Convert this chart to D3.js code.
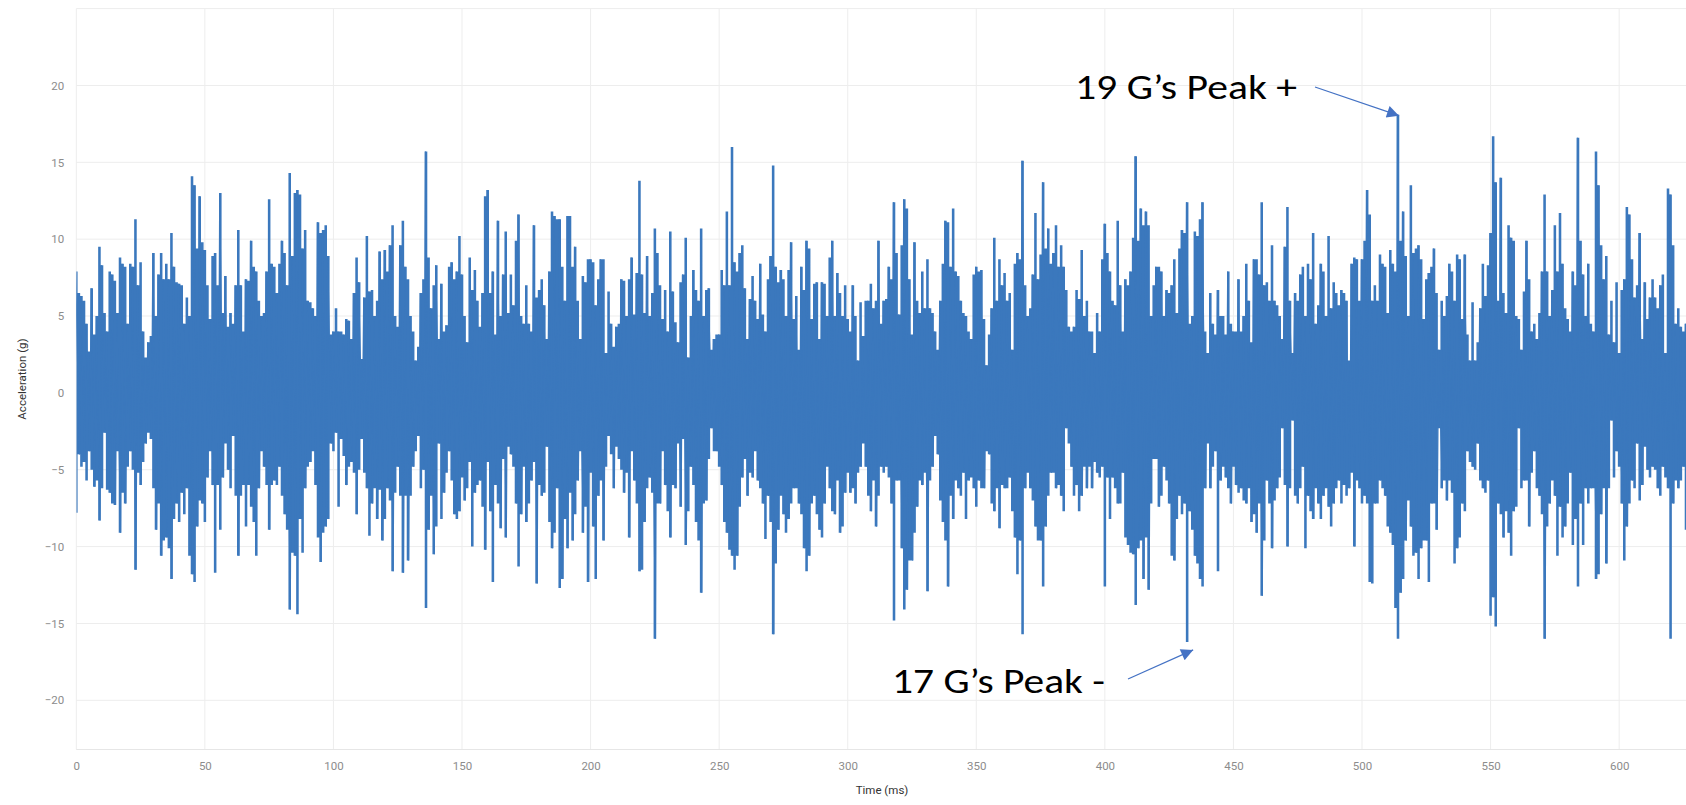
<!doctype html>
<html>
<head>
<meta charset="utf-8">
<script src="https://d3js.org/d3.v7.min.js"></script>
<style>
  body { margin: 0; background: #fff; }
  svg { display: block; }
</style>
</head>
<body>
<div id="chart"></div>
<script>

// axis ticks
var timeTicks = [0, 50, 100, 150, 200, 250, 300, 350, 400, 450, 500, 550, 600];
var accelTicks = [-20, -15, -10, -5, 0, 5, 10, 15, 20];

// upper envelope of the signal, one value per ms (0..626)
var accelMax = [
  7.9,6.5,6.3,6,4.5,2.7,6.8,3.8,5,9.5,          // 0
  8.3,5.2,4,7.9,7.7,7.3,5.2,8.8,8.4,8.2,
  4.5,8.4,8.2,11.3,7,8.5,4,2.3,3.3,3.7,
  9.1,5,7.7,9.1,7.4,8.4,7.4,10.4,8.2,7.2,
  7.1,7,4.5,6.2,5,14.1,13.5,9.4,12.8,9.8,
  9.3,7,4.8,8.9,9.1,7,13,5.2,7.6,4.3,           // 50
  5.2,4.5,7,10.6,7,4,7.4,7.3,9.9,8.2,
  7.9,6,5,5.2,7.9,12.6,8.4,8.2,6.5,8.4,
  9.9,9.1,7,14.3,8.9,13,13.2,12.9,9.4,10.6,
  6,5.9,5.5,5,11.1,10.4,10.6,10.9,8.9,3.8,
  4,5.5,4,4,3.8,4.8,4.7,3.5,6.5,8.8,            // 100
  7.2,2.2,6.2,10.2,6.6,6.7,5,6,9.2,7.4,
  9.3,7.9,9.6,10.9,5,4.3,9.6,11.2,8.2,7.4,
  5,4,2.1,3,6.5,7.4,15.7,8.8,5.5,7,
  8.3,3.5,7.1,4,4.4,8.2,8.5,7.4,7.9,10.2,
  7.7,5,3.3,8.8,6.7,8,6,4.3,6.5,12.8,           // 150
  13.2,6.5,7.9,3.8,11.2,5,7.7,10.5,5.2,7.7,
  5.7,9.9,11.6,5,4.5,7,4.5,4,10.9,6.2,
  6.7,7.4,5.7,3.5,7.9,11.8,11.5,11.3,11.3,8.2,
  6,11.5,11.5,8.2,9.5,6,3.5,7.6,7.2,8.7,
  8.7,8.5,5.7,7.4,8.7,8.7,2.6,6.6,4.5,3,         // 200
  4.3,4.5,7.4,7.3,5,7.4,8.8,5.1,7.8,13.8,
  7.7,5.2,8.9,5,6.5,10.7,9.1,7,4.8,6.7,
  4,10.5,6.6,4.6,3.3,7.2,7.7,10.1,2.3,5,
  8,6.7,6,10.7,5,6.7,6.8,2.8,3.5,3.8,
  3.8,8,7,11.8,7,16,8.5,7.9,9.1,9.6,             // 250
  6.8,3.5,6.1,7.6,6,4.8,8.4,5.1,4,7.4,
  8.9,14.8,8.2,7.2,8,7.4,5,8,9.8,4.8,
  6.3,2.8,8.2,6.7,9.9,9.4,4.8,7.1,7.2,3.5,
  7.2,7.1,5,8.8,9.9,5,7.8,6.5,5,7,
  4.8,4,7,5,2.1,5.9,3.7,6,6,7.1,                 // 300
  5.5,6,9.9,4.5,6,6.1,8.2,7.4,12.4,9.1,
  5.1,9.6,12.6,12,7.4,3.8,9.8,6,5.2,7.9,
  5.5,8.7,5.5,5.2,4,2.8,6,8.4,11.2,11.1,
  8.2,12,7.9,7.6,6,5.2,5,4,3.5,7.7,
  8.2,7.9,8,4.8,1.8,3.8,5.5,10.1,6,8.7,          // 350
  7,7.8,6,6.5,2.8,8.4,9.1,8.7,15.1,7,
  5,5.5,7.7,11.7,7.4,9,13.7,9.4,10.7,8.4,
  9.1,10.9,8.2,9.6,8.2,6.7,4.3,4,4.3,6.7,
  6.1,9.3,5,6,4,4,2.6,5.2,4,8.7,
  11,9.1,7.9,6,5.7,11.2,7,4,7.4,7,               // 400
  7.9,10.1,15.4,9.9,12,10.9,11.8,10.9,5,7,
  8.2,8.2,7.9,5,6.7,6.5,7,8.7,5.2,9.4,
  10.6,10.4,12.4,4.5,5,10.5,10.2,11.3,12.4,4,
  2.6,6.5,4.5,3.8,6.7,5,5,3.8,7.9,4.5,
  4,4,7.4,4,5,8.4,6,3.3,8.7,8.7,                 // 450
  7.7,12.4,7,7.2,6,9.6,6,5.7,5,3.5,
  9.5,12.1,6,2.6,6.5,6,7.7,8.2,5,8.4,
  7.4,10.4,4.5,5.7,8.4,7.9,5,10.2,5.5,7.2,
  6.5,5.7,6.7,6.5,6,2.1,8.4,8.8,8.7,6,
  8.7,9.9,13.2,11.6,6,7,6,9,8.4,8.2,             // 500
  5.2,9.3,8.4,7.9,18.1,9.9,11.8,8.9,5,13.5,
  9.1,9.4,9.6,8.7,4.8,7.4,7.8,8.2,9.4,6.5,
  2.8,6,5,6.3,8.4,7.9,6,9,8.7,4.8,
  9,3.8,2.1,5.9,2.1,3.3,5.5,8.4,6.3,8.3,
  10.4,16.7,13.7,6,14,6.5,5.2,10.9,10.1,9.9,     // 550
  5,4.8,2.8,6.6,9.9,7.4,4,4.5,3.5,5.2,
  7.9,12.9,7.9,5,6.7,10.9,7.9,11.7,8.4,5.5,
  4.8,4,7.9,7,16.6,9.9,7.7,5,8.4,4.5,
  4,15.7,13.5,9.6,7.4,8.9,3.8,6,3.3,7.2,
  2.6,6.7,7.4,12.1,11.6,8.7,6.2,7,10.4,3.5,      // 600
  7.2,4.8,6.2,7.4,6.2,5.5,7,7.7,2.6,13.3,
  12.9,9.6,4.5,5.5,4.3,4,4.5
];

// lower envelope, same ms grid
var accelMin = [
  -7.8,-4,-4.8,-4.5,-5.7,-3.8,-5,-6.1,-5.7,-8.3,              // 0
  -6.2,-2.6,-6.3,-6.5,-7.2,-7.3,-3.8,-9.1,-6.5,-7.2,
  -4.8,-3.8,-5,-11.5,-5.2,-6,-4.5,-3.3,-2.6,-3,
  -6.2,-8.9,-7.2,-10.6,-9.6,-9.4,-10.1,-12.1,-8.2,-7.2,
  -8.4,-6.5,-7.9,-6.2,-10.6,-11.8,-12.3,-8.7,-7,-7.2,
  -8.4,-5.5,-3.8,-6,-11.7,-6,-8.9,-5.5,-3.3,-5,              // 50
  -6.2,-2.8,-6.7,-10.6,-6.7,-6,-8.7,-6,-7.4,-8.4,
  -10.6,-6.2,-3.8,-4.8,-6,-8.9,-6,-5.7,-6,-4.8,
  -6.7,-7.9,-8.9,-14.1,-10.4,-10.6,-14.4,-8.2,-10.4,-6.2,
  -4.8,-4.5,-3.8,-6,-9.4,-11,-9.1,-8.7,-8.2,-3.3,
  -3.8,-2.6,-7.4,-3,-4.1,-6,-4.8,-4.5,-5.2,-7.9,             // 100
  -5,-3,-5.2,-6.2,-9.3,-7.2,-6.2,-8.2,-6.3,-9.6,
  -8.2,-6.2,-7,-11.6,-6.5,-4.8,-6.7,-11.7,-6.7,-10.9,
  -6.7,-4.8,-3.8,-2.8,-6.2,-5,-14,-8.9,-6.7,-10.5,
  -8.7,-3.3,-8.2,-6.5,-5.2,-3.8,-5.7,-7.9,-8.2,-7.7,
  -5.5,-7,-6.2,-4.5,-10,-6.5,-6,-5.7,-7.4,-10.2,             // 150
  -4.5,-7.7,-12.3,-6,-7.2,-8.8,-4.3,-9.4,-3.5,-4,
  -4.8,-7.2,-11.3,-7.9,-4.8,-8.4,-7.2,-5.7,-4.5,-12.4,
  -6,-6.7,-6.5,-3.5,-8.4,-10.1,-9.1,-6.2,-12.7,-12.1,
  -8.2,-10.1,-6.5,-9.6,-7.9,-5.7,-3.8,-9.1,-7.4,-12.3,
  -5.2,-8.7,-12.1,-6.7,-5.7,-9.6,-4.8,-2.8,-4,-6.2,          // 200
  -3.5,-4.3,-5,-6.5,-5.2,-9.4,-3.8,-5.7,-7.2,-11.6,
  -11.5,-8.4,-6.2,-5.5,-6.5,-16,-7.2,-7.2,-3.8,-6,
  -7.7,-9.4,-6,-6.2,-3.3,-7.4,-3,-9.9,-7.7,-4.8,
  -6,-8.4,-9.6,-13,-7.2,-7,-4.3,-2.3,-3.8,-3.8,
  -4.8,-6,-8.4,-9.1,-10.2,-10.6,-11.5,-10.6,-7.4,-5.5,       // 250
  -4.3,-6.7,-5.2,-5.5,-3.8,-5.7,-6.2,-7.2,-9.5,-6.7,
  -8.4,-15.7,-11.1,-8.9,-6.7,-7.9,-9.1,-8.2,-7.2,-6.2,
  -6.2,-7.2,-7.9,-10.1,-11.6,-10.6,-7.2,-6.7,-7.9,-8.9,
  -9.4,-7.2,-4.8,-6.2,-7.7,-7.9,-5.7,-9.1,-8.7,-6.5,
  -5.2,-6.5,-6.2,-7.2,-5.2,-4.8,-3.3,-4.8,-6.7,-7.7,         // 300
  -5.7,-8.7,-6.7,-4.8,-5.2,-4.8,-5.5,-7.2,-14.8,-5.7,
  -5.7,-10.1,-14.1,-12.8,-10.9,-10.9,-9.1,-7.4,-5.7,-6,
  -5.2,-12.9,-5.7,-4.8,-2.8,-4,-7,-8.4,-9.6,-12.6,
  -6.7,-8.2,-5.7,-6.2,-6.7,-5.2,-8.2,-5.7,-5.5,-6.2,
  -7.4,-5.7,-6.2,-6.2,-3.8,-4,-7.2,-7.7,-6.2,-8.8,           // 350
  -6,-6.2,-6.2,-5.5,-7.7,-9.4,-11.8,-9.6,-15.7,-6.2,
  -5.2,-6.2,-7,-8.7,-9.6,-9.6,-12.6,-8.7,-6.7,-5.2,
  -5.2,-6.2,-6,-6.7,-7.7,-2.3,-3.3,-4.8,-6.7,-6,
  -7.7,-6.7,-4.8,-6.2,-4.8,-6.2,-4.5,-5.2,-5.5,-4.8,
  -12.6,-5.5,-8.2,-5.5,-6.2,-7.2,-7.2,-5.2,-9.4,-9.9,        // 400
  -10.4,-10.5,-13.8,-10.1,-9.6,-12.1,-9.4,-12.8,-7.2,-4.3,
  -4.3,-7.4,-6.7,-4.8,-5.7,-7.2,-10.6,-10.9,-8.2,-6.7,
  -7.9,-7.2,-16.2,-7.7,-8.9,-10.6,-11.1,-12.1,-12.6,-6.2,
  -3.3,-6.2,-4.8,-3.8,-11.6,-5.7,-4.8,-5.5,-6.2,-7.2,
  -4.8,-6,-6.5,-6.2,-7,-7.2,-6.2,-8.4,-7.9,-9.1,             // 450
  -7.2,-13.2,-9.6,-5.7,-7.2,-10.1,-7,-6.2,-5.5,-2.3,
  -6,-10,-6.2,-1.8,-6.7,-7.2,-6.2,-4.8,-10.1,-6.7,
  -7.7,-8.2,-6.2,-7.2,-8.2,-6.7,-6.2,-7.4,-8.7,-7.2,
  -6.2,-5.7,-7.2,-6,-6.7,-6.2,-5.2,-10,-5.7,-6.2,
  -7.2,-6.7,-7.2,-12.3,-12.4,-7.2,-7.2,-5.7,-6.2,-6.7,       // 500
  -8.7,-9.1,-9.9,-14,-16,-13,-12.1,-9.6,-7,-8.7,
  -10.6,-10.4,-12.1,-10.1,-9.6,-9.6,-12.3,-7.2,-7.2,-8.9,
  -2.3,-6.2,-5.7,-7,-5.7,-6.5,-11.1,-10.1,-9.4,-7.2,
  -7.7,-3.8,-4.5,-4.8,-5,-3.3,-5.7,-6.2,-6.5,-5.7,
  -14.5,-13.3,-15.2,-7.2,-7.9,-9.4,-7.7,-9.1,-10.6,-7.7,     // 550
  -7.4,-2.3,-6.2,-5.7,-5.7,-8.7,-5.2,-3.8,-6.2,-6.7,
  -7.9,-16,-8.7,-7.2,-5.7,-6.7,-10.6,-7.4,-9.4,-8.7,
  -7.2,-5.2,-9.9,-8.2,-12.6,-7.2,-9.9,-6.2,-7.2,-6.2,
  -6.2,-12.1,-11.8,-7.9,-6.2,-11.1,-6.2,-1.8,-5.5,-3.8,
  -4.8,-7.2,-10.9,-8.7,-7.2,-5.7,-6.2,-3.3,-7,-6,            // 600
  -3.5,-5,-5.5,-4.8,-5,-6.2,-6.7,-4.8,-5.5,-6.2,
  -16,-7.2,-5.7,-6.2,-5.7,-4.8,-8.9
];

// the two peaks that are called out
var peakNotes = [
  {label: "19 G\u2019s Peak +", t: 514, g: 18.1},
  {label: "17 G\u2019s Peak -", t: 432, g: -16.2}
];

var W = 1686, H = 805;
var margin = {top: 8.6, right: 0, bottom: 55.5, left: 76.3};
var width = W - margin.left - margin.right,
    height = H - margin.top - margin.bottom;

var svg = d3.select("#chart").append("svg")
    .attr("width", W)
    .attr("height", H);

var x = d3.scaleLinear().domain([0, 626]).range([0, width]);
var y = d3.scaleLinear().domain([-23.2, 25]).range([height, 0]);

var g = svg.append("g")
    .attr("transform", "translate(" + margin.left + "," + margin.top + ")");

// grid
g.append("g").selectAll("line")
  .data(accelTicks.concat([25]))
  .join("line")
    .attr("x1", 0).attr("x2", width)
    .attr("y1", function(d) { return y(d); })
    .attr("y2", function(d) { return y(d); })
    .attr("stroke", "#ededed")
    .attr("stroke-width", 1);

g.append("g").selectAll("line")
  .data(timeTicks)
  .join("line")
    .attr("y1", 0).attr("y2", height)
    .attr("x1", function(d) { return x(d); })
    .attr("x2", function(d) { return x(d); })
    .attr("stroke", "#ededed")
    .attr("stroke-width", 1);

g.append("line")
    .attr("x1", 0).attr("x2", width)
    .attr("y1", height).attr("y2", height)
    .attr("stroke", "#e6e6e6");

// axes (labels only, no domain / tick marks)
var xAxis = g.append("g")
    .attr("transform", "translate(0," + height + ")")
    .call(d3.axisBottom(x).tickValues(timeTicks).tickSize(0).tickPadding(12));
var yAxis = g.append("g")
    .call(d3.axisLeft(y).tickValues(accelTicks).tickSize(0).tickPadding(12));

[xAxis, yAxis].forEach(function(a) {
  a.select(".domain").remove();
  a.selectAll("text")
    .attr("fill", "#8c8c8c")
    .style("font-family", "Roboto, 'Noto Sans', sans-serif")
    .style("font-size", "11.5px");
});

svg.append("text")
    .attr("transform", "translate(22," + (margin.top + height / 2) + ") rotate(-90)")
    .attr("text-anchor", "middle")
    .attr("dy", "0.35em")
    .style("font-family", "Roboto, 'Noto Sans', sans-serif")
    .style("font-size", "11.5px")
    .attr("fill", "#333")
    .text("Acceleration (g)");

svg.append("text")
    .attr("x", 882)
    .attr("y", 794)
    .attr("text-anchor", "middle")
    .style("font-family", "Roboto, 'Noto Sans', sans-serif")
    .style("font-size", "11.5px")
    .attr("fill", "#333")
    .text("Time (ms)");

// signal: solid band between the lower and upper envelope, one step per ms
var bins = accelMax.map(function(v, i) { return [i, v, accelMin[i]]; });

g.append("clipPath").attr("id", "clip")
  .append("rect").attr("width", width).attr("height", height);

var sig = g.append("g").attr("clip-path", "url(#clip)");

sig.append("path")
    .datum(bins)
    .attr("fill", "#3b78bd")
    .attr("d", d3.area()
      .curve(d3.curveStep)
      .x(function(d) { return x(d[0]); })
      .y0(function(d) { return y(d[2]); })
      .y1(function(d) { return y(d[1]); }));

// thin trace on top so single spikes keep a sharp line look
sig.append("path")
    .datum(bins)
    .attr("fill", "none")
    .attr("stroke", "#3b78bd")
    .attr("stroke-width", 1.2)
    .attr("d", d3.line()
      .x(function(d, i) { return x(d[0]) + (i % 2 ? 0.6 : -0.6); })
      .y(function(d, i) { return y(i % 2 ? d[2] : d[1]); }));

// callouts
svg.append("defs").append("marker")
    .attr("id", "head")
    .attr("viewBox", "0 0 10 10")
    .attr("refX", 10).attr("refY", 5)
    .attr("markerUnits", "userSpaceOnUse")
    .attr("markerWidth", 16).attr("markerHeight", 12)
    .attr("orient", "auto")
  .append("path")
    .attr("d", "M0,0L10,5L0,10z")
    .attr("fill", "#4472c4");

var noteText = [
  {x: 1075, y: 99, w: 222, from: [1315, 87], off: [1, 1]},
  {x: 892, y: 693, w: 213, from: [1128, 679], off: [6, 8]}
];

peakNotes.forEach(function(p, i) {
  var n = noteText[i];
  svg.append("text")
      .attr("x", n.x).attr("y", n.y)
      .attr("textLength", n.w)
      .attr("lengthAdjust", "spacingAndGlyphs")
      .style("font-family", "Calibri, Carlito, Lato, sans-serif")
      .style("font-size", "35px")
      .attr("fill", "#000")
      .text(p.label);
  svg.append("line")
      .attr("x1", n.from[0]).attr("y1", n.from[1])
      .attr("x2", margin.left + x(p.t) + n.off[0])
      .attr("y2", margin.top + y(p.g) + n.off[1])
      .attr("stroke", "#4472c4")
      .attr("stroke-width", 1.2)
      .attr("marker-end", "url(#head)");
});

</script>
</body>
</html>
